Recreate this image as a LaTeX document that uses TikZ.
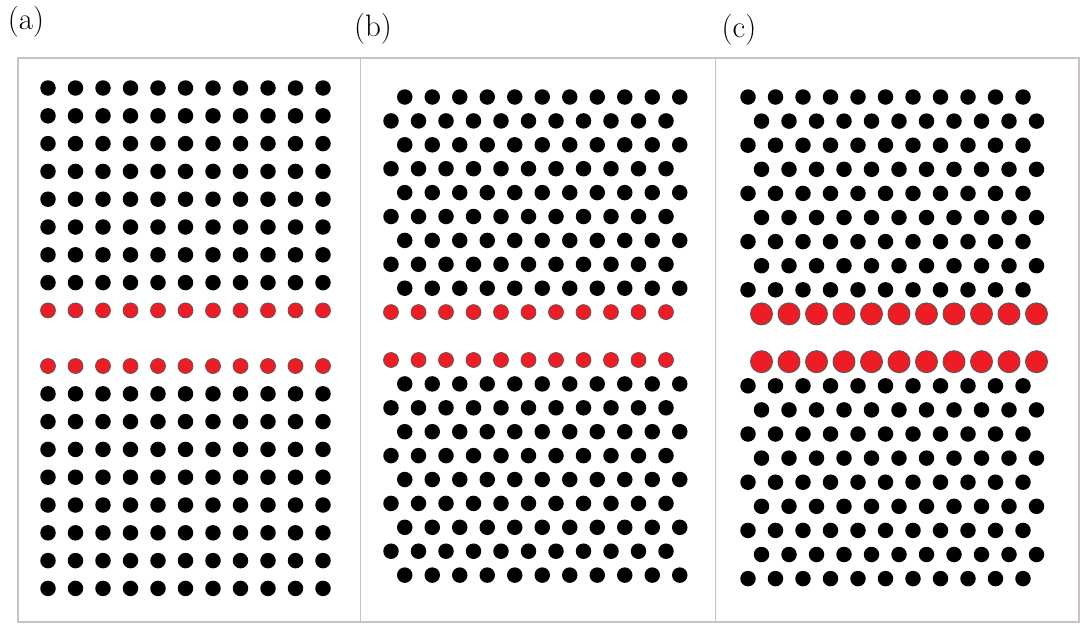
\documentclass[tikz,border=0pt]{standalone}
\usepackage{tikz}
\definecolor{framegray}{HTML}{C6C2C6}
\definecolor{dotred}{HTML}{EE1C25}
\begin{document}
\begin{tikzpicture}[x=1pt,y=-1pt,
  dot/.style={circle,inner sep=0pt,minimum size=15.5pt,fill=black},
  reddot/.style={circle,inner sep=0pt,minimum size=15pt,fill=dotred,draw=black!65,line width=0.7pt},
  bigreddot/.style={reddot,minimum size=22pt,line width=0.9pt},
  frameline/.style={draw=framegray,line width=1.8pt},
  panellabel/.style={font=\fontsize{31}{31}\selectfont,inner sep=0pt}]
\useasboundingbox (0,0) rectangle (1080,624);

% panel frames
\draw[frameline] (18,58) rectangle (360.5,622);
\draw[frameline] (360.5,58) rectangle (715.5,622);
\draw[frameline] (715.5,58) rectangle (1079,622);

% panel labels
\node[panellabel] (la) at (26,22) {(a)};
\node[panellabel] (lb) at (373,28.5) {(b)};
\node[panellabel] (lc) at (739,29.5) {(c)};

% (a) square lattice, red rows at the cut
\foreach \k in {0,...,8}{
  \foreach \i in {0,...,10}{
    \pgfmathsetmacro\px{48+27.5*\i}
    \pgfmathsetmacro\py{88+27.8*\k}
    \ifnum\k=8 \node[reddot] (a-u-\k-\i) at (\px,\py) {};
    \else \node[dot] (a-u-\k-\i) at (\px,\py) {}; \fi
  }
}
\foreach \m in {0,...,8}{
  \foreach \i in {0,...,10}{
    \pgfmathsetmacro\px{48+27.5*\i}
    \pgfmathsetmacro\py{366+27.8*\m}
    \ifnum\m=0 \node[reddot] (a-l-\m-\i) at (\px,\py) {};
    \else \node[dot] (a-l-\m-\i) at (\px,\py) {}; \fi
  }
}

% (b) triangular lattice, red rows at the cut
\foreach \k in {0,...,9}{
  \foreach \i in {0,...,10}{
    \pgfmathsetmacro\px{391+13.75*(1-mod(\k,2))+27.5*\i}
    \pgfmathsetmacro\py{97+23.9*\k}
    \ifnum\k=9 \node[reddot] (b-u-\k-\i) at (\px,\py) {};
    \else \node[dot] (b-u-\k-\i) at (\px,\py) {}; \fi
  }
}
\foreach \m in {0,...,9}{
  \foreach \i in {0,...,10}{
    \pgfmathsetmacro\px{391+13.75*mod(\m,2)+27.5*\i}
    \pgfmathsetmacro\py{360+23.9*\m}
    \ifnum\m=0 \node[reddot] (b-l-\m-\i) at (\px,\py) {};
    \else \node[dot] (b-l-\m-\i) at (\px,\py) {}; \fi
  }
}

% (c) triangular lattice, enlarged red rows at the cut
\foreach \k in {0,...,9}{
  \foreach \i in {0,...,10}{
    \pgfmathsetmacro\px{748+13.5*mod(\k,2)+27.5*\i}
    \pgfmathsetmacro\py{97+24.1*\k}
    \ifnum\k=9 \node[bigreddot] (c-u-\k-\i) at (\px,\py) {};
    \else \node[dot] (c-u-\k-\i) at (\px,\py) {}; \fi
  }
}
\foreach \m in {0,...,9}{
  \foreach \i in {0,...,10}{
    \pgfmathsetmacro\px{748+13.5*(1-mod(\m,2))+27.5*\i}
    \pgfmathsetmacro\py{361.7+24.1*\m}
    \ifnum\m=0 \node[bigreddot] (c-l-\m-\i) at (\px,\py) {};
    \else \node[dot] (c-l-\m-\i) at (\px,\py) {}; \fi
  }
}
\end{tikzpicture}
\end{document}
